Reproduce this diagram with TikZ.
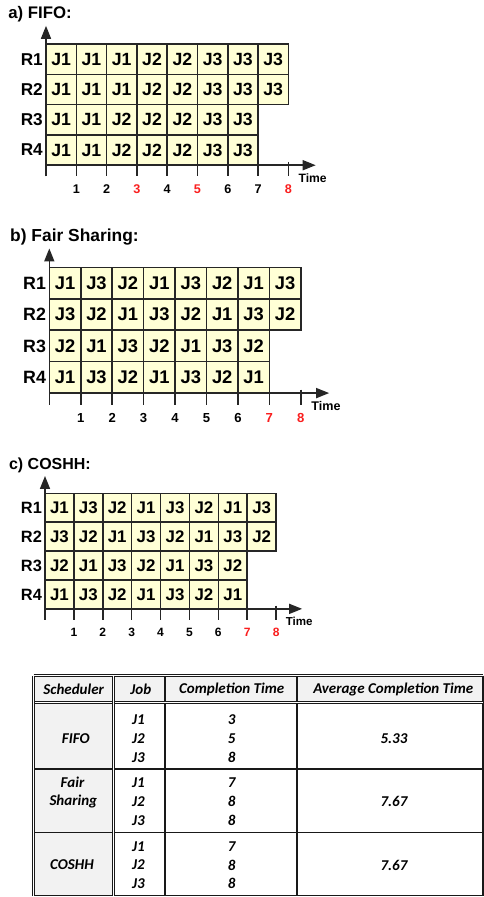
\documentclass[tikz,border=0pt]{standalone}
\usepackage{fontspec}
\setmainfont{Liberation Sans}
\newfontfamily\carl{Carlito}[BoldItalicFont={Carlito Bold Italic}, BoldFont={Carlito Bold}, ItalicFont={Carlito Italic}]
\usetikzlibrary{arrows.meta}
\definecolor{cream}{RGB}{255,255,214}
\definecolor{hdr}{RGB}{242,242,242}
\definecolor{redlab}{RGB}{250,30,30}
\tikzset{
  cell/.style={draw=black!85, line width=1.6bp, fill=cream, minimum width=30bp, minimum height=30bp, inner sep=0pt, font=\fontsize{17.5bp}{18bp}\selectfont\bfseries},
  axis/.style={line width=1.6bp, draw=black!85, -{Triangle[length=13bp,width=10bp]}},
  tickline/.style={line width=1.6bp, draw=black!85},
  rlab/.style={anchor=east, inner sep=0pt, font=\fontsize{17bp}{18bp}\selectfont\bfseries},
  ticklab/.style={inner sep=0pt, font=\fontsize{12.5bp}{13bp}\selectfont\bfseries},
  timelab/.style={inner sep=0pt, font=\fontsize{12bp}{12bp}\selectfont\bfseries},
  ttl/.style={anchor=west, inner sep=0pt, font=\fontsize{16.6bp}{17bp}\selectfont\bfseries},
  tsingle/.style={line width=1.2bp, draw=black!90},
  tdouble/.style={line width=0.9bp, draw=black!90, double=white, double distance=1.4bp},
  ttext/.style={inner sep=0pt, font=\fontsize{15bp}{18bp}\selectfont\carl\bfseries\itshape},
}
% #1 prefix, #2 shift, #3 scale, #4 title, #5 tick labels, #6 rows
\newcommand{\gantt}[6]{%
\begin{scope}[shift={(#2)}, scale=#3, transform shape, x=30bp, y=30bp]
  \node[ttl] (#1-title) at (-1.25,0.97) {#4};
  \foreach \row [count=\ri] in {#6} {
    \node[rlab] (#1-R\ri) at (-0.1,0.5-\ri) {R\ri};
    \foreach \j [count=\ci] in \row {
      \node[cell] (#1-\ri-\ci) at (\ci-0.5,0.5-\ri) {\j};
    }
  }
  \coordinate (#1-o) at (0,-4.37);
  \coordinate (#1-ytop) at (0,0.6);
  \coordinate (#1-xo) at (0,-4);
  \coordinate (#1-xend) at (8.9,-4);
  \draw[axis] (#1-o) -- (#1-ytop);
  \draw[axis] (#1-xo) -- (#1-xend);
  \foreach \k in {1,...,7} \draw[tickline] (\k,-4) -- (\k,-4.37);
  \draw[tickline] (8,-3.89) -- (8,-4.37);
  \foreach \k/\col in {#5} \node[ticklab,text=\col] (#1-t\k) at (\k,-4.8) {\k};
  \node[timelab] (#1-time) at (8.8,-4.42) {Time};
\end{scope}}
\begin{document}
\begin{tikzpicture}
\fill[white] (0,0) rectangle (484bp,-897bp);
\useasboundingbox (0,0) rectangle (484bp,-897bp);

\gantt{a}{46bp,-44bp}{1.01}{a) FIFO:}%
 {1/black,2/black,3/redlab,4/black,5/redlab,6/black,7/black,8/redlab}%
 {{J1,J1,J1,J2,J2,J3,J3,J3},{J1,J1,J1,J2,J2,J3,J3,J3},{J1,J1,J2,J2,J2,J3,J3},{J1,J1,J2,J2,J2,J3,J3}}

\gantt{b}{49.3bp,-267.3bp}{1.048}{b) Fair Sharing:}%
 {1/black,2/black,3/black,4/black,5/black,6/black,7/redlab,8/redlab}%
 {{J1,J3,J2,J1,J3,J2,J1,J3},{J3,J2,J1,J3,J2,J1,J3,J2},{J2,J1,J3,J2,J1,J3,J2},{J1,J3,J2,J1,J3,J2,J1}}

\gantt{c}{45bp,-493.3bp}{0.963}{c) COSHH:}%
 {1/black,2/black,3/black,4/black,5/black,6/black,7/redlab,8/redlab}%
 {{J1,J3,J2,J1,J3,J2,J1,J3},{J3,J2,J1,J3,J2,J1,J3,J2},{J2,J1,J3,J2,J1,J3,J2},{J1,J3,J2,J1,J3,J2,J1}}

\begin{scope}[x=1bp,y=-1bp]
  \fill[hdr] (33.5,675.5) rectangle (483,702.5);
  \fill[hdr] (33.5,702.5) rectangle (113.5,895.5);
  \draw[tsingle] (165,675.5) -- (165,895.5);
  \draw[tsingle] (297,675.5) -- (297,895.5);
  \draw[tsingle] (33.5,769) -- (483,769);
  \draw[tsingle] (33.5,832.5) -- (483,832.5);
  \draw[tsingle] (483,675.5) -- (483,895.5);
  \draw[tsingle, line width=1.6bp] (33.5,895.5) -- (483,895.5);
  \draw[tdouble] (33.5,675.5) -- (483,675.5);
  \draw[tdouble] (33.5,702.5) -- (483,702.5);
  \draw[tdouble] (33.5,675.5) -- (33.5,895.5);
  \draw[tdouble] (113.5,675.5) -- (113.5,895.5);

  \node[ttext] (h1) at (73.7,689) {Scheduler};
  \node[ttext] (h2) at (140.8,689) {Job};
  \node[ttext] (h3) at (231.7,689) {Completion Time};
  \node[ttext] (h4) at (393.3,689) {Average Completion Time};

  \node[ttext] (s1) at (75.8,738.3) {FIFO};
  \node[ttext] (s2a) at (72.5,782.7) {Fair};
  \node[ttext] (s2b) at (73.3,801.7) {Sharing};
  \node[ttext] (s3) at (72,865) {COSHH};

  \foreach \y/\jn/\ct [count=\n] in {720/J1/3,738.3/J2/5,757.3/J3/8,782.7/J1/7,801.7/J2/8,820.7/J3/8,846.7/J1/7,865/J2/8,883.3/J3/8}{
    \node[ttext] (job\n) at (138.5,\y) {\jn};
    \node[ttext] (ct\n) at (231.7,\y) {\ct};
  }
  \node[ttext] (avg1) at (394,738.3) {5.33};
  \node[ttext] (avg2) at (394,801.7) {7.67};
  \node[ttext] (avg3) at (394,865) {7.67};
\end{scope}
\end{tikzpicture}
\end{document}
